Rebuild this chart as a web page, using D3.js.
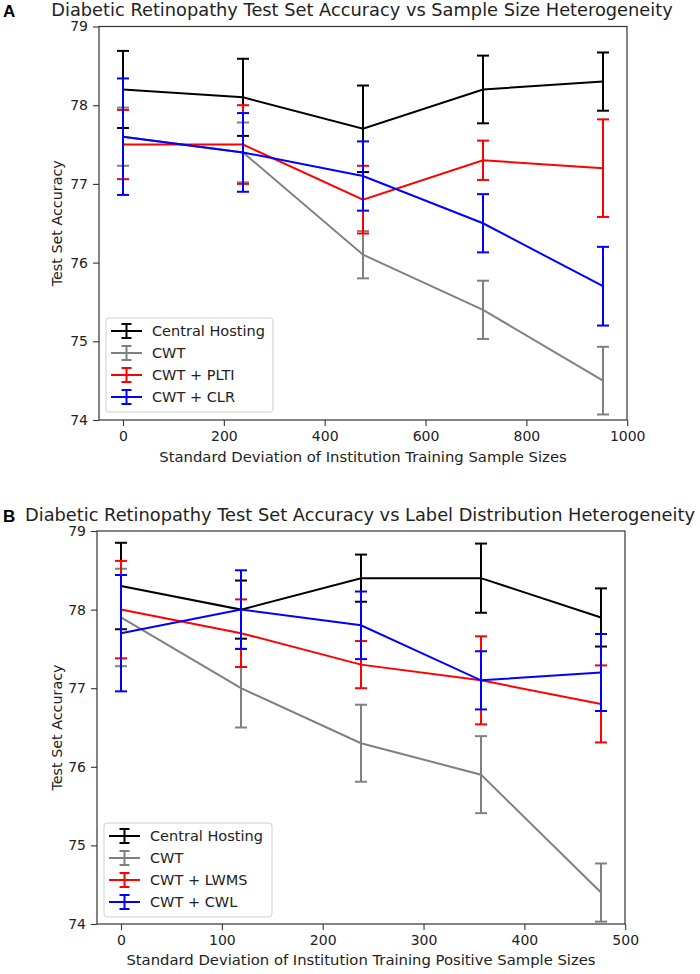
<!DOCTYPE html>
<html><head><meta charset="utf-8">
<script src="https://cdn.jsdelivr.net/npm/d3@7"></script>
<style>body{margin:0;background:#fff}</style>
</head><body>
<svg id="chart" width="700" height="974"></svg>
<script>
// ---- Panel A data ----
const xA = [0, 238, 476, 714, 952];
const centralA = [78.2, 78.1, 77.7, 78.2, 78.3];
const centralAErr = [0.49, 0.49, 0.55, 0.43, 0.37];
const cwtA = [77.6, 77.4, 76.1, 75.4, 74.5];
const cwtAErr = [0.37, 0.38, 0.3, 0.37, 0.43];
const pltiA = [77.5, 77.5, 76.8, 77.3, 77.2];
const pltiAErr = [0.44, 0.5, 0.43, 0.25, 0.62];
const clrA = [77.6, 77.4, 77.1, 76.5, 75.7];
const clrAErr = [0.74, 0.5, 0.44, 0.37, 0.5];

// ---- Panel B data ----
const xB = [0, 119, 238, 357, 476];
const centralB = [78.3, 78.0, 78.4, 78.4, 77.9];
const centralBErr = [0.55, 0.37, 0.3, 0.44, 0.37];
const cwtB = [77.9, 77.0, 76.3, 75.9, 74.4];
const cwtBErr = [0.62, 0.5, 0.49, 0.49, 0.37];
const lwmsB = [78.0, 77.7, 77.3, 77.1, 76.8];
const lwmsBErr = [0.62, 0.43, 0.3, 0.56, 0.49];
const cwlB = [77.7, 78.0, 77.8, 77.1, 77.2];
const cwlBErr = [0.74, 0.5, 0.43, 0.37, 0.49];

// ---- ticks / labels ----
const yTicks = [74, 75, 76, 77, 78, 79];
const xTicksA = [0, 200, 400, 600, 800, 1000];
const xTicksB = [0, 100, 200, 300, 400, 500];
const seriesColors = ["#000000", "#808080", "#ff0000", "#0000ff"];
const namesA = ["Central Hosting", "CWT", "CWT + PLTI", "CWT + CLR"];
const namesB = ["Central Hosting", "CWT", "CWT + LWMS", "CWT + CWL"];
const titleA = "Diabetic Retinopathy Test Set Accuracy vs Sample Size Heterogeneity";
const titleB = "Diabetic Retinopathy Test Set Accuracy vs Label Distribution Heterogeneity";
const xLabelA = "Standard Deviation of Institution Training Sample Sizes";
const xLabelB = "Standard Deviation of Institution Training Positive Sample Sizes";
const yLabel = "Test Set Accuracy";

const svg = d3.select("#chart");
const FONT = "DejaVu Sans, Verdana, sans-serif";

function panel(cfg) {
  const g = svg.append("g");
  const x = d3.scaleLinear().domain(cfg.xDomain).range([cfg.left, cfg.right]);
  const y = d3.scaleLinear().domain([74, 79]).range([cfg.bottom, cfg.top]);

  // axes
  const ax = g.append("g").attr("transform", `translate(0,${cfg.bottom})`)
    .call(d3.axisBottom(x).tickValues(cfg.xTicks).tickSize(6).tickPadding(5).tickFormat(d3.format("d")));
  const ay = g.append("g").attr("transform", `translate(${cfg.left},0)`)
    .call(d3.axisLeft(y).tickValues(yTicks).tickSize(6).tickPadding(5).tickFormat(d3.format("d")));
  [ax, ay].forEach(a => {
    a.select(".domain").remove();
    a.selectAll(".tick line").attr("stroke", "#333").attr("stroke-width", 1.1);
    a.selectAll(".tick text").attr("fill", "#222").style("font-family", FONT).style("font-size", "14px");
  });

  // series
  cfg.series.forEach((s, i) => {
    const col = seriesColors[i];
    const sg = g.append("g");
    const pts = cfg.xs.map((xv, j) => ({x: xv, y: s.v[j], e: s.e[j]}));
    sg.selectAll("line.bar").data(pts).enter().append("line")
      .attr("x1", d => x(d.x)).attr("x2", d => x(d.x))
      .attr("y1", d => y(d.y - d.e)).attr("y2", d => y(d.y + d.e))
      .attr("stroke", col).attr("stroke-width", 2);
    ["lo", "hi"].forEach(k => {
      sg.selectAll("line.cap" + k).data(pts).enter().append("line")
        .attr("x1", d => x(d.x) - 6).attr("x2", d => x(d.x) + 6)
        .attr("y1", d => y(k === "lo" ? d.y - d.e : d.y + d.e))
        .attr("y2", d => y(k === "lo" ? d.y - d.e : d.y + d.e))
        .attr("stroke", col).attr("stroke-width", 2);
    });
    sg.append("path").datum(pts)
      .attr("d", d3.line().x(d => x(d.x)).y(d => y(d.y)))
      .attr("fill", "none").attr("stroke", col).attr("stroke-width", 2);
  });

  // frame
  g.append("rect").attr("x", cfg.left).attr("y", cfg.top)
    .attr("width", cfg.right - cfg.left).attr("height", cfg.bottom - cfg.top)
    .attr("fill", "none").attr("stroke", "#333").attr("stroke-width", 1.2);

  // legend
  const lg = g.append("g");
  lg.append("rect").attr("x", cfg.leg.x).attr("y", cfg.leg.y).attr("width", cfg.leg.w).attr("height", cfg.leg.h)
    .attr("rx", 3).attr("fill", "#fff").attr("fill-opacity", 0.85).attr("stroke", "#d0d0d0");
  cfg.names.forEach((n, i) => {
    const cy = cfg.leg.y + 13 + i * 22;
    const hx0 = cfg.leg.x + 5, hx1 = cfg.leg.x + 36, hc = (hx0 + hx1) / 2;
    const col = seriesColors[i];
    lg.append("line").attr("x1", hx0).attr("x2", hx1).attr("y1", cy).attr("y2", cy).attr("stroke", col).attr("stroke-width", 2);
    lg.append("line").attr("x1", hc).attr("x2", hc).attr("y1", cy - 7).attr("y2", cy + 7).attr("stroke", col).attr("stroke-width", 2);
    lg.append("line").attr("x1", hc - 5).attr("x2", hc + 5).attr("y1", cy - 7).attr("y2", cy - 7).attr("stroke", col).attr("stroke-width", 2);
    lg.append("line").attr("x1", hc - 5).attr("x2", hc + 5).attr("y1", cy + 7).attr("y2", cy + 7).attr("stroke", col).attr("stroke-width", 2);
    lg.append("text").attr("x", cfg.leg.x + 46).attr("y", cy + 5).text(n)
      .style("font-family", FONT).style("font-size", "14.5px").attr("fill", "#222");
  });

  // texts
  g.append("text").attr("x", (cfg.left + cfg.right) / 2 - 1).attr("y", cfg.titleY).attr("text-anchor", "middle")
    .text(cfg.title).style("font-family", FONT).style("font-size", cfg.titleSize).attr("fill", "#222");
  g.append("text").attr("x", (cfg.left + cfg.right) / 2).attr("y", cfg.xLabelY).attr("text-anchor", "middle")
    .text(cfg.xLabel).style("font-family", FONT).style("font-size", "14.8px").attr("fill", "#222");
  g.append("text").attr("transform", `translate(62,${(cfg.top + cfg.bottom) / 2}) rotate(-90)`).attr("text-anchor", "middle")
    .text(yLabel).style("font-family", FONT).style("font-size", "14.3px").attr("fill", "#222");
  g.append("text").attr("x", 3).attr("y", cfg.letterY).text(cfg.letter)
    .style("font-family", "Liberation Sans, Arial, sans-serif").style("font-weight", "bold").style("font-size", "17px");
}

panel({
  xDomain: [-47.6, 999.6], left: 99, right: 627, top: 26.5, bottom: 420,
  xTicks: xTicksA, xs: xA,
  series: [{v: centralA, e: centralAErr}, {v: cwtA, e: cwtAErr}, {v: pltiA, e: pltiAErr}, {v: clrA, e: clrAErr}],
  names: namesA, leg: {x: 106, y: 318, w: 167, h: 94},
  title: titleA, titleY: 15.5, titleSize: "17.8px",
  xLabel: xLabelA, xLabelY: 462, letter: "A", letterY: 17
});
panel({
  xDomain: [-23.8, 499.8], left: 97, right: 625, top: 531, bottom: 924,
  xTicks: xTicksB, xs: xB,
  series: [{v: centralB, e: centralBErr}, {v: cwtB, e: cwtBErr}, {v: lwmsB, e: lwmsBErr}, {v: cwlB, e: cwlBErr}],
  names: namesB, leg: {x: 104, y: 823, w: 168, h: 94},
  title: titleB, titleY: 520.5, titleSize: "17.8px",
  xLabel: xLabelB, xLabelY: 965, letter: "B", letterY: 522
});
</script>
</body></html>
